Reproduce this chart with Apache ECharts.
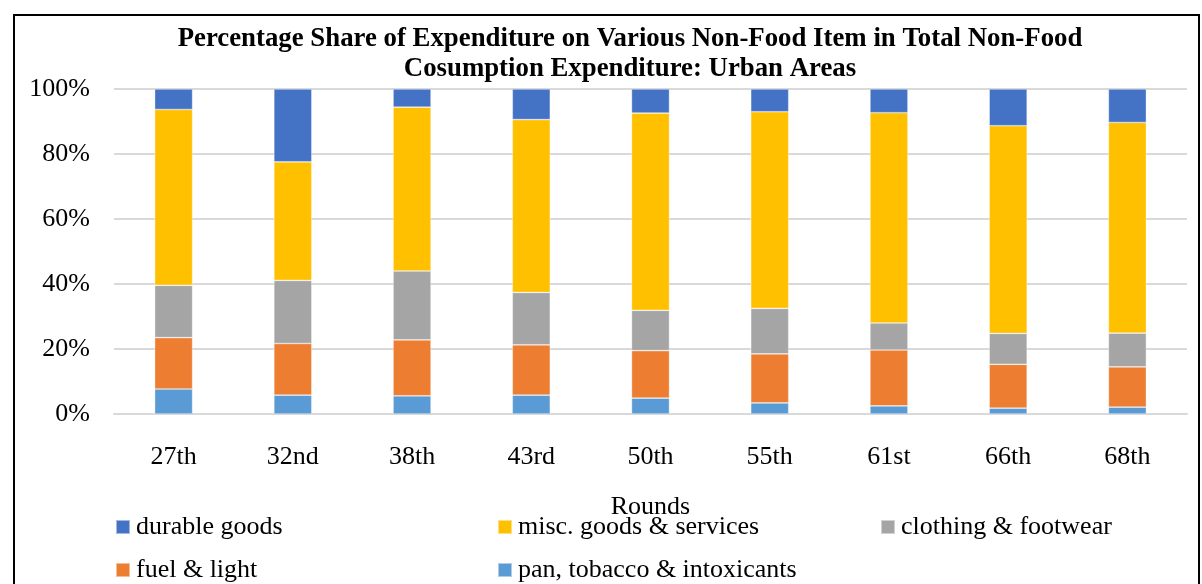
<!DOCTYPE html>
<html>
<head>
<meta charset="utf-8">
<script src="https://cdn.jsdelivr.net/npm/echarts@6/dist/echarts.min.js"></script>
<style>html,body{margin:0;padding:0;background:#fff}#c{width:1202px;height:584px}</style>
</head>
<body>
<div id="c"></div>
<script>
const categories = ['27th','32nd','38th','43rd','50th','55th','61st','66th','68th'];
const pan      = [7.7, 5.8, 5.6, 5.8, 4.9, 3.4, 2.5, 1.8, 2.1];
const fuel     = [15.8, 15.9, 17.2, 15.5, 14.6, 15.1, 17.2, 13.5, 12.4];
const clothing = [16.1, 19.4, 21.2, 16.1, 12.4, 14.0, 8.3, 9.5, 10.4];
const misc     = [54.1, 36.5, 50.4, 53.2, 60.7, 60.5, 64.7, 63.9, 64.8];
const durable  = [6.3, 22.4, 5.6, 9.4, 7.4, 7.0, 7.3, 11.3, 10.3];
const yTicks = [0, 20, 40, 60, 80, 100];

const font = '"Liberation Serif", "Times New Roman", serif';
const colors = {
  'pan, tobacco & intoxicants': '#5B9BD5',
  'fuel & light': '#ED7D31',
  'clothing & footwear': '#A5A5A5',
  'misc. goods & services': '#FFC000',
  'durable goods': '#4472C4'
};
const seriesDefs = [
  ['pan, tobacco & intoxicants', pan],
  ['fuel & light', fuel],
  ['clothing & footwear', clothing],
  ['misc. goods & services', misc],
  ['durable goods', durable]
];

function mkLegend(name, left, top) {
  return {
    data: [name], left: left, top: top, orient: 'horizontal', padding: 0,
    itemWidth: 14, itemHeight: 14, itemGap: 0, icon: 'rect',
    textStyle: { fontFamily: font, fontSize: 26, color: '#000', padding: [0,0,0,1] },
    selectedMode: false
  };
}

const chart = echarts.init(document.getElementById('c'));
chart.setOption({
  animation: false,
  backgroundColor: '#fff',
  title: {
    text: 'Percentage Share of Expenditure on Various Non-Food Item in Total Non-Food\nCosumption Expenditure: Urban Areas',
    left: 630, top: 24, textAlign: 'center', padding: 0,
    textStyle: { fontFamily: font, fontSize: 26.8, fontWeight: 'bold', color: '#000', lineHeight: 30 }
  },
  graphic: [{
    type: 'rect', shape: { x: 14, y: 15, width: 1185, height: 620 },
    style: { fill: 'none', stroke: '#000', lineWidth: 2 }, silent: true
  }],
  legend: [
    mkLegend('durable goods', 115, 514),
    mkLegend('misc. goods & services', 497, 514),
    mkLegend('clothing & footwear', 880, 514),
    mkLegend('fuel & light', 115, 557),
    mkLegend('pan, tobacco & intoxicants', 497, 557)
  ],
  grid: { left: 114, top: 89, width: 1073, height: 325 },
  xAxis: {
    type: 'category', data: categories,
    name: 'Rounds', nameLocation: 'middle', nameGap: 80,
    nameTextStyle: { fontFamily: font, fontSize: 26, color: '#000' },
    axisLine: { show: true, lineStyle: { color: '#d9d9d9', width: 2 } },
    axisTick: { show: false },
    axisLabel: { fontFamily: font, fontSize: 26, color: '#000', margin: 30 }
  },
  yAxis: {
    type: 'value', min: 0, max: 100, interval: 20,
    axisLine: { show: false }, axisTick: { show: false },
    splitLine: { lineStyle: { color: '#d9d9d9', width: 2 } },
    axisLabel: { fontFamily: font, fontSize: 26, color: '#000', margin: 24,
      formatter: v => yTicks.includes(v) ? v + '%' : '' }
  },
  series: seriesDefs.map(([name, data]) => ({
    name: name, type: 'bar', stack: 'total', data: data, barWidth: 38,
    itemStyle: { color: colors[name], borderColor: 'rgba(255,255,255,0.5)', borderWidth: 0.7 }
  }))
});
</script>
</body>
</html>
